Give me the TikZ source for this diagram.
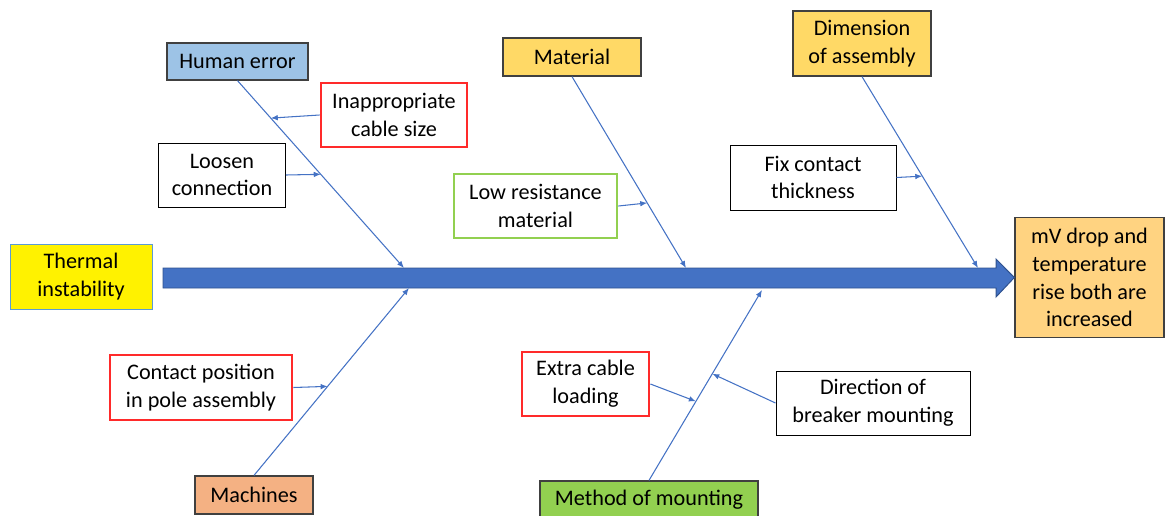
\documentclass[tikz,border=0pt]{standalone}
\usepackage{fontspec}
\setmainfont{Carlito}
\usetikzlibrary{arrows.meta,calc}
\definecolor{boneblue}{HTML}{4472C4}
\definecolor{spineedge}{HTML}{2F528F}
\definecolor{catedge}{HTML}{404040}
\definecolor{boxred}{HTML}{FF2A2A}
\definecolor{boxgreen}{HTML}{92D050}
\definecolor{catblue}{HTML}{9DC3E6}
\definecolor{catyellow}{HTML}{FFD966}
\definecolor{catorange}{HTML}{FFD381}
\definecolor{catsalmon}{HTML}{F4B183}
\definecolor{catgreen}{HTML}{92D050}
\definecolor{thermedge}{HTML}{5B9BD5}
\begin{document}
\begin{tikzpicture}[x=0.025cm,y=-0.025cm,
  every node/.style={font=\fontsize{15.8}{19.8}\selectfont,align=center,inner sep=2pt},
  box/.style={draw=black,line width=0.7pt,fill=white},
  redbox/.style={draw=boxred,line width=2pt,fill=white},
  greenbox/.style={draw=boxgreen,line width=2pt,fill=white},
  catbox/.style={draw=catedge,line width=0.9pt,fill=#1},
  thermbox/.style={draw=thermedge,line width=0.7pt,fill=yellow},
  sz/.style 2 args={minimum width=#1*0.025cm,minimum height=#2*0.025cm},
  bone/.style={boneblue,line width=0.75pt,-{Latex[length=5pt,width=4pt]}},
  spine/.style={fill=boneblue,draw=spineedge,line width=0.7pt}]
  \useasboundingbox (0,0) rectangle (1165,515);

  \node[catbox=catblue,sz={141}{37}]    (hum)   at (237.5,61.5) {Human error};
  \node[redbox,sz={146}{64}]            (inap)  at (394,115)    {Inappropriate\\cable size};
  \node[box,sz={127}{64}]               (loos)  at (222,175)    {Loosen\\connection};
  \node[thermbox,sz={142}{65}]          (therm) at (81,276.5)   {Thermal\\instability};
  \node[catbox=catyellow,sz={138}{38}]  (mat)   at (572,57)     {Material};
  \node[greenbox,sz={163}{64}]          (lowr)  at (535.5,206)  {Low resistance\\material};
  \node[catbox=catyellow,sz={138}{65}]  (dim)   at (862,43.5)   {Dimension\\of assembly};
  \node[box,sz={166}{65}]               (fixc)  at (813,177.5)  {Fix contact\\thickness};
  \node[catbox=catorange,sz={149}{120}] (mv)    at (1089.5,277.5) {mV drop and\\temperature\\rise both are\\increased};
  \node[redbox,sz={182}{65}]            (cont)  at (201,387.5)  {Contact position\\in pole assembly};
  \node[catbox=catsalmon,sz={118}{38}]  (mach)  at (254,495)    {Machines};
  \node[redbox,sz={127}{64}]            (extra) at (585.5,384)  {Extra cable\\loading};
  \node[box,sz={194}{64}]               (dir)   at (873,403)    {Direction of\\breaker mounting};
  \node[catbox=catgreen,sz={218}{38}]   (meth)  at (649,500)    {Method of mounting};

  % spine
  \draw[spine] (163,268) -- (996,268) -- (996,259) -- (mv.west) -- (996,297) -- (996,288) -- (163,288) -- cycle;
  \coordinate (s1) at (404,268);
  \coordinate (s2) at (686,268);
  \coordinate (s3) at (978,268);
  \coordinate (s4) at (409,288);
  \coordinate (s5) at (762,290);

  \draw[bone] (hum.south)  -- coordinate[pos=.2] (b1) coordinate[pos=.5] (b2) (s1);
  \draw[bone] (mat.south)  -- coordinate[pos=.66] (b3) (s2);
  \draw[bone] (dim.south)  -- coordinate[pos=.52] (b4) (s3);
  \draw[bone] (mach.north) -- coordinate[pos=.475] (b5) (s4);
  \draw[bone] (meth.north) -- coordinate[pos=.415] (b6) coordinate[pos=.56] (b7) (s5);

  \draw[bone] (inap.west)  -- (b1);
  \draw[bone] (loos.east)  -- (b2);
  \draw[bone] (lowr.east)  -- (b3);
  \draw[bone] (fixc.east)  -- (b4);
  \draw[bone] (cont.east)  -- (b5);
  \draw[bone] (extra.east) -- (b6);
  \draw[bone] (dir.west)   -- (b7);
\end{tikzpicture}
\end{document}
